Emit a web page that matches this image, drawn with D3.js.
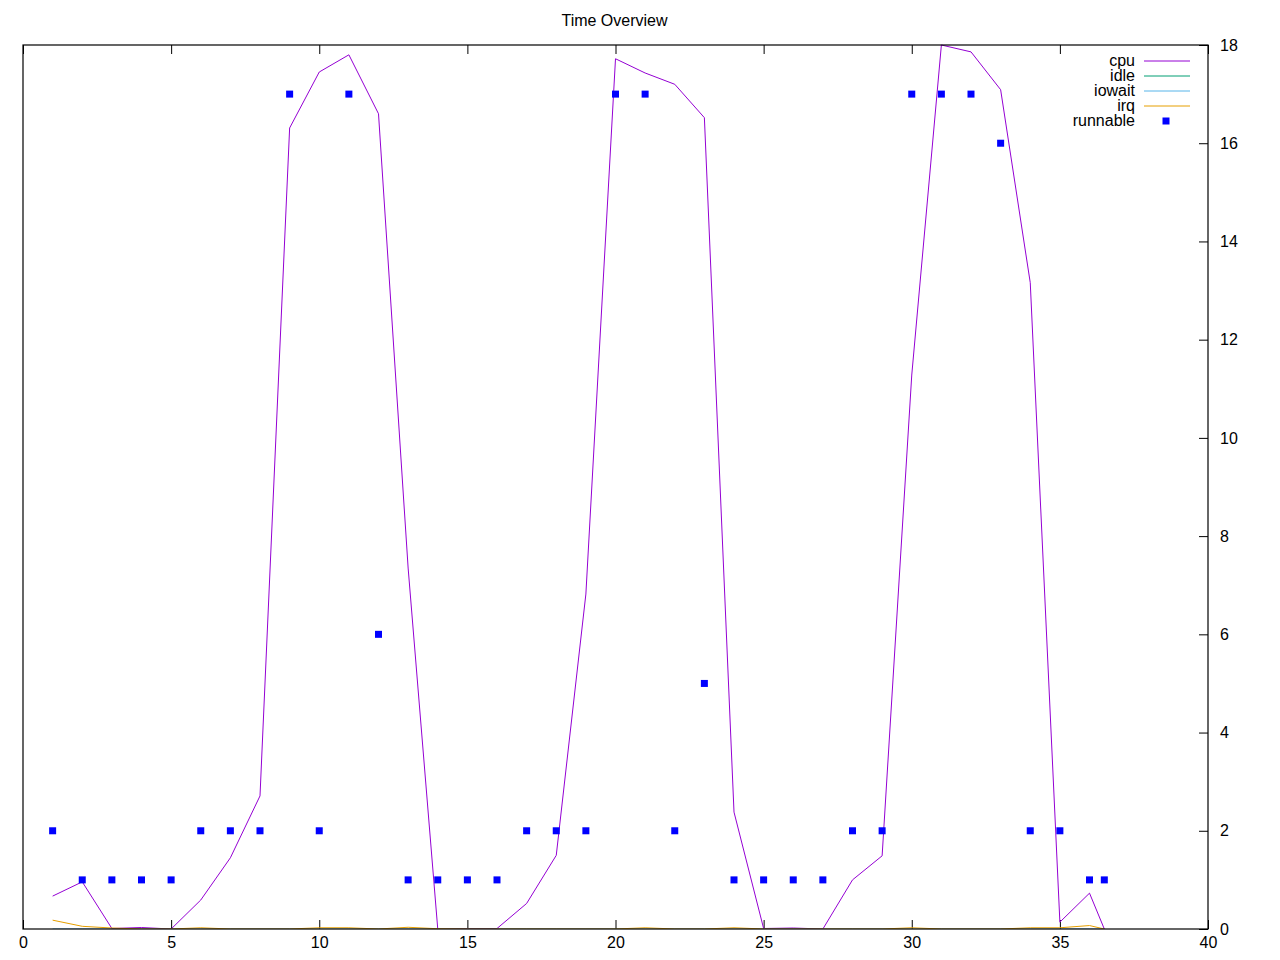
<!DOCTYPE html>
<html>
<head>
<meta charset="utf-8">
<script src="https://cdn.jsdelivr.net/npm/d3@7"></script>
<style>
  html, body { margin: 0; padding: 0; background: #fff; }
  text { font-family: "Liberation Sans", Arial, sans-serif; }
</style>
</head>
<body>
<svg id="chart" width="1280" height="960"></svg>
<script>
// ---- data ----
const xValues   = [1,2,3,4,5,6,7,8,9,10,11,12,13,14,15,16,17,18,19,20,21,22,23,24,25,26,27,28,29,30,31,32,33,34,35,36,36.5];
const cpu       = [0.67,0.96,0.01,0.03,0.0,0.59,1.45,2.71,16.31,17.45,17.8,16.6,7.35,0.0,0.01,0.01,0.52,1.5,6.82,17.72,17.43,17.2,16.52,2.38,0.01,0.02,0.0,1.0,1.49,11.28,18.0,17.86,17.09,13.16,0.14,0.73,0.0];
const idle      = [null,null,null,null,null,null,null,null,null,null,null,null,null,null,null,null,null,null,null,null,null,null,null,null,null,null,null,null,null,null,null,null,null,null,null,null,null];
const iowait    = [0,0,0,0,0,0,0,0,0,0,0,0,0,0,0,0,0,0,0,0,0,0,0,0,0,0,0,0,0,0,0,0,0,0,0,0,0];
const irq       = [0.18,0.055,0.02,0,0,0.025,0,0,0,0.025,0.025,0,0.035,0.005,0,0,0,0,0,0,0.025,0,0,0.025,0,0,0,0,0,0.025,0,0,0,0.025,0.025,0.07,0];
const runnable  = [2,1,1,1,1,2,2,2,17,2,17,6,1,1,1,1,2,2,2,17,17,2,5,1,1,1,1,2,2,17,17,17,16,2,2,1,1];
const xTicks    = [0,5,10,15,20,25,30,35,40];
const yTicks    = [0,2,4,6,8,10,12,14,16,18];
const seriesNames  = ["cpu","idle","iowait","irq"];
const seriesColors = ["#9400d3","#009e73","#56b4e9","#e69f00"];
const title = "Time Overview";

// ---- layout ----
const svg = d3.select("#chart");
const L = 23, R = 1208, T = 45, B = 929;
const FS = 16;
const x = d3.scaleLinear().domain([0, 40]).range([L, R]);
const y = d3.scaleLinear().domain([0, 18]).range([B, T]);

svg.append("rect").attr("width", 1280).attr("height", 960).attr("fill", "#fff");

const clip = svg.append("defs").append("clipPath").attr("id", "plotclip");
clip.append("rect").attr("x", L).attr("y", T - 1).attr("width", R - L).attr("height", B - T + 1);

// title
svg.append("text").attr("x", (L + R) / 2 - 1).attr("y", 26)
  .attr("text-anchor", "middle").attr("font-size", FS).attr("fill", "#000").text(title);

// axes (gnuplot style: inward ticks)
const xAxisB = d3.axisBottom(x).tickValues(xTicks).tickSizeInner(-9).tickSizeOuter(0).tickPadding(8);
const gxb = svg.append("g").attr("transform", `translate(0,${B})`).call(xAxisB);
const xAxisT = d3.axisTop(x).tickValues(xTicks).tickSizeInner(-9).tickSizeOuter(0).tickFormat("");
const gxt = svg.append("g").attr("transform", `translate(0,${T})`).call(xAxisT);
const yAxisR = d3.axisRight(y).tickValues(yTicks).tickSizeInner(-9).tickSizeOuter(0).tickPadding(12);
const gyr = svg.append("g").attr("transform", `translate(${R},0)`).call(yAxisR);
[gxb, gxt, gyr].forEach(g => {
  g.select(".domain").remove();
  g.selectAll("line").attr("stroke", "#000");
  g.selectAll("text").attr("font-size", FS).attr("fill", "#000")
    .attr("font-family", "Liberation Sans, Arial, sans-serif");
});

// lines
const seriesData = [cpu, idle, iowait, irq];
const plot = svg.append("g").attr("clip-path", "url(#plotclip)");
const line = d3.line()
  .defined(d => d[1] !== null)
  .x(d => x(d[0])).y(d => y(d[1]));
seriesData.forEach((vals, i) => {
  const pts = xValues.map((xv, k) => [xv, vals[k]]);
  plot.append("path").datum(pts)
    .attr("d", line)
    .attr("fill", "none")
    .attr("stroke", seriesColors[i])
    .attr("stroke-width", 1);
});

// border
svg.append("rect").attr("x", L).attr("y", T).attr("width", R - L).attr("height", B - T)
  .attr("fill", "none").attr("stroke", "#000").attr("stroke-width", 1.2);

// runnable points
svg.selectAll("rect.pt").data(xValues.map((xv, k) => [xv, runnable[k]]))
  .enter().append("rect").attr("class", "pt")
  .attr("x", d => x(d[0]) - 3.5).attr("y", d => y(d[1]) - 3.5)
  .attr("width", 7).attr("height", 7).attr("fill", "#0000ff");

// legend
const legNames = seriesNames.concat(["runnable"]);
const leg = svg.append("g");
legNames.forEach((name, i) => {
  const ly = 61 + i * 15;
  leg.append("text").attr("x", 1135).attr("y", ly).attr("dy", "0.3em")
    .attr("text-anchor", "end").attr("font-size", FS).attr("fill", "#000").text(name);
  if (i < seriesNames.length) {
    leg.append("line").attr("x1", 1144).attr("x2", 1190).attr("y1", ly).attr("y2", ly)
      .attr("stroke", seriesColors[i]).attr("stroke-width", 1);
  } else {
    leg.append("rect").attr("x", 1166 - 3.5).attr("y", ly - 3.5).attr("width", 7).attr("height", 7)
      .attr("fill", "#0000ff");
  }
});
</script>
</body>
</html>
